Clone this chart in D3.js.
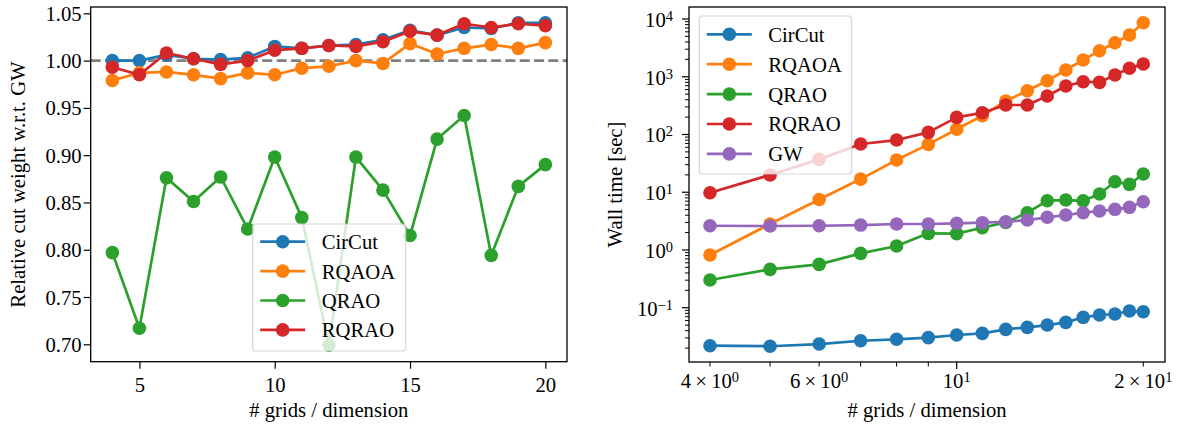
<!DOCTYPE html>
<html>
<head>
<meta charset="utf-8">
<script src="https://cdn.jsdelivr.net/npm/d3@7"></script>
<style>
  body { margin: 0; background: #fff; }
  svg text { font-family: 'Liberation Serif', 'Times New Roman', serif; fill: #000; }
</style>
</head>
<body>
<svg id="chart" width="1180" height="430"></svg>
<script>
// grid sizes on the x axis of both panels
const grids = [4, 5, 6, 7, 8, 9, 10, 11, 12, 13, 14, 15, 16, 17, 18, 19, 20];

// left panel: cut weight relative to GW
const circutRel = [1.000, 1.000, 1.006, 1.002, 1.001, 1.003, 1.015, 1.013, 1.016, 1.017, 1.022, 1.032, 1.027, 1.035, 1.034, 1.040, 1.040];
const rqaoaRel  = [0.979, 0.987, 0.988, 0.985, 0.981, 0.987, 0.985, 0.992, 0.994, 1.000, 0.997, 1.018, 1.007, 1.013, 1.017, 1.013, 1.019];
const qraoRel   = [0.797, 0.717, 0.876, 0.851, 0.877, 0.822, 0.898, 0.834, 0.699, 0.898, 0.863, 0.815, 0.917, 0.942, 0.794, 0.867, 0.890];
const rqraoRel  = [0.993, 0.985, 1.008, 1.002, 0.996, 1.000, 1.011, 1.013, 1.016, 1.015, 1.020, 1.031, 1.027, 1.039, 1.035, 1.039, 1.037];

// right panel: wall time in seconds
const circutTime = [0.022, 0.0215, 0.0235, 0.0268, 0.0284, 0.0303, 0.0337, 0.036, 0.0422, 0.0457, 0.0501, 0.0558, 0.0682, 0.0748, 0.0778, 0.0877, 0.0853];
const rqaoaTime  = [0.818, 2.82, 7.5, 16.9, 36.1, 67.4, 123, 211, 380, 573, 853, 1309, 1950, 2826, 3890, 5290, 8630];
const qraoTime   = [0.302, 0.462, 0.563, 0.875, 1.17, 1.94, 1.92, 2.43, 3.0, 4.42, 7.13, 7.33, 7.1, 9.3, 15.2, 13.7, 20.7];
const rqraoTime  = [9.8, 19.9, 37.1, 68.4, 80.1, 109, 198, 238, 324, 324, 464, 692, 821, 800, 1072, 1400, 1663];
const gwTime     = [2.63, 2.6, 2.63, 2.7, 2.82, 2.82, 2.9, 2.97, 3.08, 3.3, 3.68, 4.04, 4.42, 4.73, 5.06, 5.48, 6.86];

const leftTicksX = [5, 10, 15, 20];
const leftTicksY = [0.70, 0.75, 0.80, 0.85, 0.90, 0.95, 1.00, 1.05];
const rightMajorY = [-1, 0, 1, 2, 3, 4];          // exponents of 10
const rightLabelX = [[4, 0], [6, 0], [10, 1], [20, 1]]; // value, exponent shown

const names  = ["CirCut", "RQAOA", "QRAO", "RQRAO", "GW"];
const colors = ["#1f77b4", "#ff7f0e", "#2ca02c", "#d62728", "#9467bd"];

const FS = 20.7;
const svg = d3.select("#chart");

// ---------- helpers ----------
function drawSeries(g, x, y, ys, color) {
  const line = d3.line().x((d, i) => x(grids[i])).y(d => y(d));
  g.append("path").datum(ys)
    .attr("d", line)
    .attr("fill", "none")
    .attr("stroke", color)
    .attr("stroke-width", 2.7)
    .attr("stroke-linejoin", "round");
  g.selectAll(null).data(ys).enter().append("circle")
    .attr("cx", (d, i) => x(grids[i]))
    .attr("cy", d => y(d))
    .attr("r", 6.8)
    .attr("fill", color);
}

function drawFrame(x, y) {
  const [x0, x1] = x.range(), [y0, y1] = y.range();
  svg.append("rect")
    .attr("x", x0).attr("y", y1)
    .attr("width", x1 - x0).attr("height", y0 - y1)
    .attr("fill", "none").attr("stroke", "#000").attr("stroke-width", 1.3);
}

function drawLegend(bx, by, bw, bh, items, first, step) {
  const lg = svg.append("g");
  lg.append("rect")
    .attr("x", bx).attr("y", by).attr("width", bw).attr("height", bh)
    .attr("rx", 3)
    .attr("fill", "#fff").attr("fill-opacity", 0.8)
    .attr("stroke", "#ccc").attr("stroke-opacity", 0.8).attr("stroke-width", 1.2);
  items.forEach((it, i) => {
    const cy = by + first + i * step;
    lg.append("line")
      .attr("x1", bx + 7.5).attr("x2", bx + 52.5)
      .attr("y1", cy).attr("y2", cy)
      .attr("stroke", it.color).attr("stroke-width", 2.7);
    lg.append("circle").attr("cx", bx + 30).attr("cy", cy).attr("r", 6.8).attr("fill", it.color);
    lg.append("text")
      .attr("x", bx + 69).attr("y", cy).attr("dy", "0.36em")
      .attr("font-size", FS).text(it.name);
  });
}

function supText(sel, base, exp) {
  sel.append("tspan").text(base);
  sel.append("tspan").attr("dy", "-0.42em").attr("font-size", FS * 0.7).text(exp);
}

// ---------- left panel ----------
const xL = d3.scaleLinear().domain([3.2, 20.8]).range([90.7, 567]);
const yL = d3.scaleLinear().domain([0.6816, 1.0567]).range([361.7, 7]);

svg.append("g")
  .attr("transform", `translate(0,${yL.range()[0]})`)
  .call(d3.axisBottom(xL).tickValues(leftTicksX).tickSize(7).tickFormat(d3.format("d")))
  .call(g => g.select(".domain").remove())
  .call(g => g.selectAll("line").attr("stroke-width", 1.2))
  .call(g => g.selectAll("text").attr("y", 30).attr("dy", null).attr("font-size", FS));

svg.append("g")
  .attr("transform", `translate(${xL.range()[0]},0)`)
  .call(d3.axisLeft(yL).tickValues(leftTicksY).tickSize(7).tickPadding(2).tickFormat(d3.format(".2f")))
  .call(g => g.select(".domain").remove())
  .call(g => g.selectAll("line").attr("stroke-width", 1.2))
  .call(g => g.selectAll("text").attr("dy", "0.34em").attr("font-size", FS));

const gL = svg.append("g");
gL.append("line")
  .attr("x1", xL.range()[0]).attr("x2", xL.range()[1])
  .attr("y1", yL(1)).attr("y2", yL(1))
  .attr("stroke", "#808080").attr("stroke-width", 2.7).attr("stroke-dasharray", "10,4.3");

[circutRel, rqaoaRel, qraoRel, rqraoRel].forEach((ys, i) => drawSeries(gL, xL, yL, ys, colors[i]));
drawFrame(xL, yL);

drawLegend(252.7, 224, 153, 127,
  names.slice(0, 4).map((n, i) => ({ name: n, color: colors[i] })), 17.7, 29.4);

svg.append("text")
  .attr("transform", `translate(25,184.5) rotate(-90)`)
  .attr("text-anchor", "middle").attr("font-size", FS)
  .text("Relative cut weight w.r.t. GW");

svg.append("text")
  .attr("x", (xL.range()[0] + xL.range()[1]) / 2).attr("y", 417)
  .attr("text-anchor", "middle").attr("font-size", FS)
  .text("# grids / dimension");

// ---------- right panel ----------
const xR = d3.scaleLog().domain([3.70, 21.68]).range([689, 1165]);
const yR = d3.scaleLog().domain([Math.pow(10, -1.94), Math.pow(10, 4.208)]).range([362, 7]);

const yB = yR.range()[0], xLft = xR.range()[0];

// x ticks: 10 is major, the rest minor
const xMinor = [4, 5, 6, 7, 8, 9, 20];
const xt = svg.append("g");
xt.selectAll(null).data(xMinor).enter().append("line")
  .attr("x1", d => xR(d)).attr("x2", d => xR(d))
  .attr("y1", yB).attr("y2", yB + 4.5)
  .attr("stroke", "#000").attr("stroke-width", 1);
xt.append("line")
  .attr("x1", xR(10)).attr("x2", xR(10)).attr("y1", yB).attr("y2", yB + 7)
  .attr("stroke", "#000").attr("stroke-width", 1.2);
rightLabelX.forEach(([v, e]) => {
  const t = xt.append("text")
    .attr("x", xR(v)).attr("y", 388)
    .attr("text-anchor", "middle").attr("font-size", FS);
  if (v === 10) supText(t, "10", e);
  else supText(t, (v / Math.pow(10, e)) + "\u2009×\u200910", e);
});

// y ticks
const yMinor = [];
for (let e = -2; e <= 4; e++) {
  for (let m = 2; m <= 9; m++) {
    const v = m * Math.pow(10, e);
    if (v > yR.domain()[0] && v < yR.domain()[1]) yMinor.push(v);
  }
}
const yt = svg.append("g");
yt.selectAll(null).data(yMinor).enter().append("line")
  .attr("x1", xLft - 4).attr("x2", xLft)
  .attr("y1", d => yR(d)).attr("y2", d => yR(d))
  .attr("stroke", "#000").attr("stroke-width", 1);
yt.selectAll(null).data(rightMajorY).enter().append("line")
  .attr("x1", xLft - 7).attr("x2", xLft)
  .attr("y1", d => yR(Math.pow(10, d))).attr("y2", d => yR(Math.pow(10, d)))
  .attr("stroke", "#000").attr("stroke-width", 1.2);
rightMajorY.forEach(e => {
  const t = yt.append("text")
    .attr("x", 673).attr("y", yR(Math.pow(10, e)) + 8)
    .attr("text-anchor", "end").attr("font-size", FS);
  supText(t, "10", e < 0 ? "\u2212" + Math.abs(e) : e);
});

const gR = svg.append("g");
[circutTime, rqaoaTime, qraoTime, rqraoTime, gwTime].forEach((ys, i) => drawSeries(gR, xR, yR, ys, colors[i]));
drawFrame(xR, yR);

drawLegend(699.3, 16, 152.4, 158,
  names.map((n, i) => ({ name: n, color: colors[i] })), 18.3, 29.9);

svg.append("text")
  .attr("transform", `translate(622,184.5) rotate(-90)`)
  .attr("text-anchor", "middle").attr("font-size", FS)
  .text("Wall time [sec]");

svg.append("text")
  .attr("x", (xR.range()[0] + xR.range()[1]) / 2).attr("y", 417)
  .attr("text-anchor", "middle").attr("font-size", FS)
  .text("# grids / dimension");
</script>
</body>
</html>
